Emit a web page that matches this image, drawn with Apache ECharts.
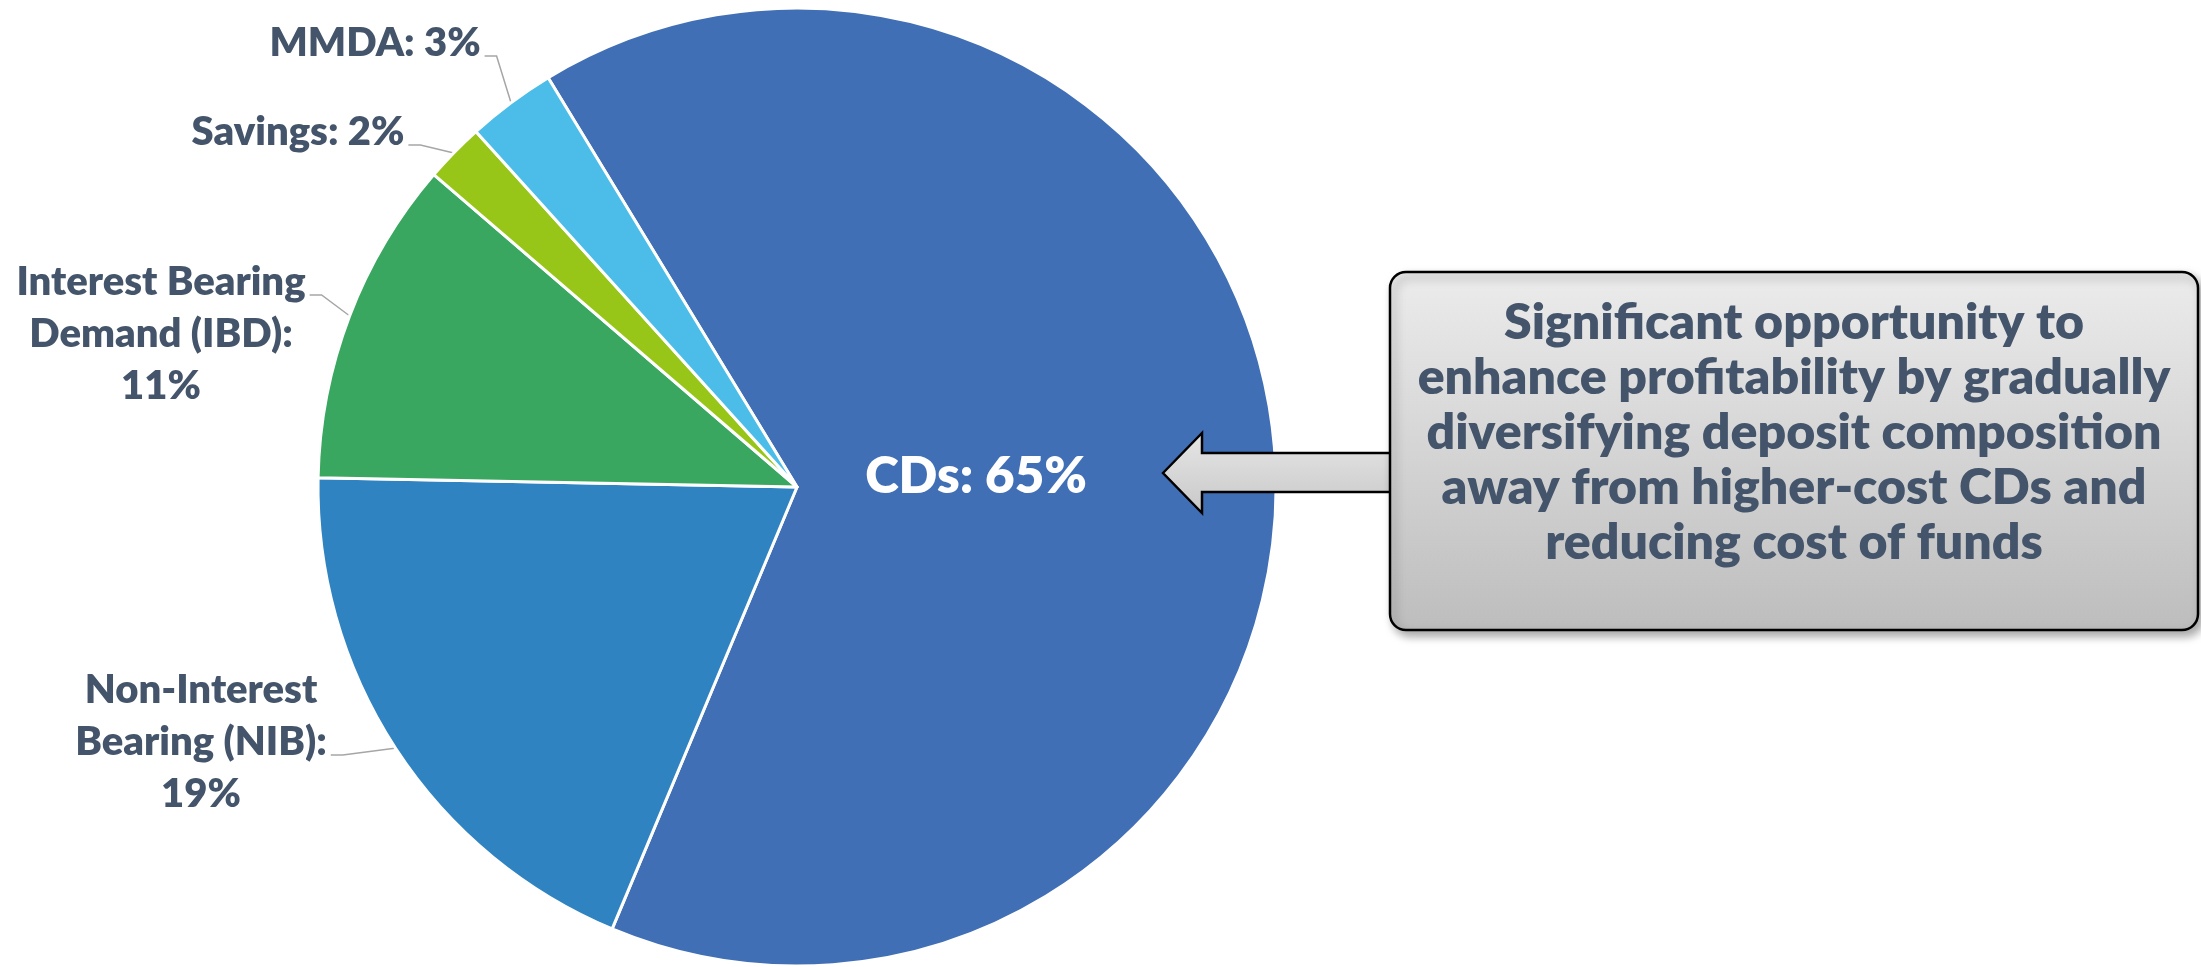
<!DOCTYPE html>
<html>
<head>
<meta charset="utf-8">
<script src="https://cdn.jsdelivr.net/npm/echarts@6/dist/echarts.min.js"></script>
<style>
  html, body { margin: 0; padding: 0; background: #fff; }
  #chart { width: 2201px; height: 967px; }
</style>
</head>
<body>
<div id="chart"></div>
<script>
const categories = [
  "CDs",
  "Non-Interest\nBearing (NIB)",
  "Interest Bearing\nDemand (IBD)",
  "Savings",
  "MMDA",
];
const shares = [65, 19, 11, 2, 3];
const colors = ["#416fb5", "#3083c1", "#3aa760", "#97c619", "#4bbde8"];
const noteLines = [
  "Significant opportunity to",
  "enhance profitability by gradually",
  "diversifying deposit composition",
  "away from higher-cost CDs and",
  "reducing cost of funds",
];

// centre of each label's text, same order as categories
const labelSpots = [[976, 477], [201, 742], [161, 334], [298, 132], [375, 43]];
// which text row the leader line meets (CDs has no leader)
const leaderRow = [-1, 1, 0, 0, 0];

const textColor = "#44546a";
const fontName = "Lato";
const weight = 800;
const labelLineH = 52;
const cx = 797, cy = 487, R = 479;
const startAngle = 121.3;

const total = shares.reduce((a, b) => a + b, 0);
const midAngles = [];
let run = 0;
shares.forEach((v) => {
  midAngles.push(((startAngle - ((run + v / 2) / total) * 360) * Math.PI) / 180);
  run += v;
});

const chart = echarts.init(document.getElementById("chart"));

const data = categories.map((name, i) => {
  const item = { name: name, value: shares[i], itemStyle: { color: colors[i] } };
  if (i === 0) {
    item.label = { position: "inside", color: "#fff", fontSize: 51 };
    item.labelLine = { show: false };
  }
  return item;
});

const grayFill = (top, bottom) => ({
  type: "linear",
  x: 0, y: 0, x2: 0, y2: 1,
  colorStops: [
    { offset: 0, color: top },
    { offset: 1, color: bottom },
  ],
});

const option = {
  animation: false,
  series: [
    {
      type: "pie",
      center: [cx, cy],
      radius: R,
      startAngle: startAngle,
      avoidLabelOverlap: false,
      itemStyle: { borderColor: "#fff", borderWidth: 3 },
      label: {
        show: true,
        fontFamily: fontName,
        fontWeight: weight,
        fontSize: 40,
        lineHeight: labelLineH,
        color: textColor,
        formatter(p) {
          const sep = p.name.indexOf("\n") >= 0 ? ":\n" : ": ";
          return p.name + sep + p.value + "%";
        },
      },
      labelLine: {
        show: true,
        lineStyle: { color: "#a6a6a6", width: 1.5 },
      },
      labelLayout(params) {
        const i = params.dataIndex;
        const spot = labelSpots[i];
        const out = { x: spot[0], y: spot[1], align: "center", verticalAlign: "middle" };
        if (leaderRow[i] >= 0) {
          const rect = params.labelRect;
          const top = spot[1] - rect.height / 2;
          const ly = top + labelLineH * (leaderRow[i] + 0.5) + 13;
          const lx = spot[0] + rect.width / 2 + 4;
          const a = midAngles[i];
          out.labelLinePoints = [
            [cx + (R - 1) * Math.cos(a), cy - (R - 1) * Math.sin(a)],
            [lx + 12, ly],
            [lx, ly],
          ];
        }
        return out;
      },
      emphasis: { disabled: true },
      data: data,
    },
  ],
  graphic: [
    {
      type: "polygon",
      z: 100,
      shape: {
        points: [[1163, 473], [1202, 433], [1202, 453], [1392, 453], [1392, 492], [1202, 492], [1202, 513]],
      },
      style: { fill: grayFill("#e6e6e6", "#c8c8c8"), stroke: "#000", lineWidth: 2.5 },
    },
    {
      type: "rect",
      z: 101,
      shape: { x: 1390, y: 272, width: 808, height: 358, r: 16 },
      style: {
        fill: grayFill("#ececec", "#bdbdbd"),
        stroke: "#000",
        lineWidth: 2.5,
        shadowBlur: 10,
        shadowOffsetX: 4,
        shadowOffsetY: 5,
        shadowColor: "rgba(0,0,0,0.35)",
      },
    },
    {
      type: "text",
      z: 102,
      x: 1794,
      y: 433,
      style: {
        text: noteLines.join("\n"),
        font: weight + " 50px " + fontName,
        fill: textColor,
        align: "center",
        verticalAlign: "middle",
        textAlign: "center",
        textVerticalAlign: "middle",
        lineHeight: 55,
      },
    },
  ],
};

chart.setOption(option);
</script>
</body>
</html>
